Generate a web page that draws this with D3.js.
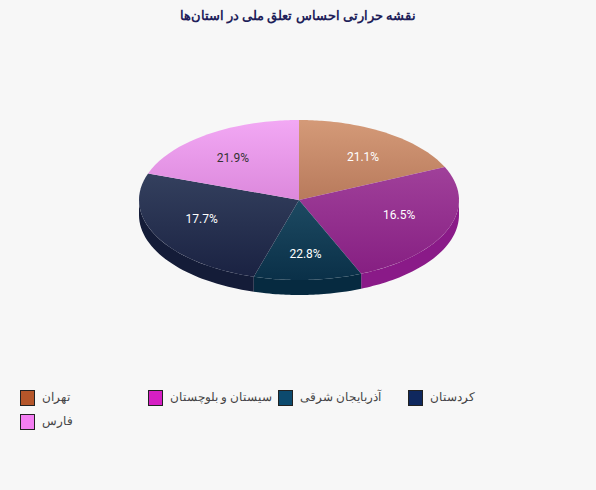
<!DOCTYPE html>
<html><head><meta charset="utf-8">
<script src="https://cdn.jsdelivr.net/npm/d3@7"></script>
<style>body{margin:0;background:#f7f7f7;font-family:Roboto,"Noto Sans",sans-serif}</style>
</head><body><svg id="c" width="596" height="490"></svg>
<script>
const categories=["تهران","سیستان و بلوچستان","آذربایجان شرقی","کردستان","فارس"];
const values=[21.1,16.5,22.8,17.7,21.9];
const legendColors=["#b5562a","#d61fc4","#0c4a6e","#0f285e","#f47ef2"];
const faceColors=[["#d49a78","#b87a5c"],["#a0409a","#861f82"],["#1d4a62","#0a3048"],["#34405e","#1a2242"],["#f2a8f4","#dc88dc"]];
const sideColors=["#9a6040","#8a1a88","#062a40","#141c38","#c070c0"];
const labelColors=["#fff","#fff","#fff","#fff","#333"];
const svg=d3.select("#c");
svg.append("rect").attr("width",596).attr("height",490).attr("fill","#f7f7f7");
svg.append("text").attr("x",298).attr("y",20).attr("text-anchor","middle").attr("font-weight","bold")
 .attr("font-size",13).attr("fill","#1f1f5a").attr("direction","rtl").text("نقشه حرارتی احساس تعلق ملی در استان‌ها");
const cx=299,cy=200,rx=160,ry=80,depth=15;
const pie=d3.pie().sort(null).value(d=>d)(values);
const defs=svg.append("defs");
faceColors.forEach((c,i)=>{const g=defs.append("linearGradient").attr("id","g"+i).attr("x1",0).attr("y1",0).attr("x2",0).attr("y2",1);
 g.append("stop").attr("offset","0").attr("stop-color",c[0]);g.append("stop").attr("offset","1").attr("stop-color",c[1]);});
const warp=a=>a-0.38*Math.sin(2*a);
const P=(a,dy=0,r=1)=>{const t=warp(a);return [cx+r*rx*Math.sin(t),cy-r*ry*Math.cos(t)+dy];};
function arcPts(a0,a1,dy){const n=40,pts=[];for(let k=0;k<=n;k++)pts.push(P(a0+(a1-a0)*k/n,dy));return pts;}
const line=d3.line();
pie.forEach((s,i)=>{
 const a0=Math.max(s.startAngle,Math.PI/2),a1=Math.min(s.endAngle,3*Math.PI/2);
 if(a1<=a0)return;
 const top=arcPts(a0,a1,0),bot=arcPts(a0,a1,depth).reverse();
 svg.append("path").attr("d",line(top.concat(bot))+"Z").attr("fill",sideColors[i]);
});
pie.forEach((s,i)=>{
 const pts=[[cx,cy]].concat(arcPts(s.startAngle,s.endAngle,0));
 svg.append("path").attr("d",line(pts)+"Z").attr("fill",`url(#g${i})`);
});
pie.forEach((s,i)=>{
 const m=(s.startAngle+s.endAngle)/2;
 svg.append("text").attr("x",cx+0.65*rx*Math.sin(m)).attr("y",cy-0.68*ry*Math.cos(m)+4)
  .attr("text-anchor","middle").attr("font-size",12).attr("fill",labelColors[i]).text(s.data.toFixed(1)+"%");
});
const cols=[20,148,278,408];
categories.forEach((c,i)=>{
 const x=cols[i%4],y=i<4?390:414;
 svg.append("rect").attr("x",x+0.5).attr("y",y+0.5).attr("width",14).attr("height",15).attr("fill",legendColors[i]).attr("stroke","#222");
 svg.append("text").attr("x",x+22).attr("y",y+11).attr("font-size",12).attr("fill","#444").attr("direction","rtl").attr("text-anchor","end").text(c);
});
</script></body></html>
